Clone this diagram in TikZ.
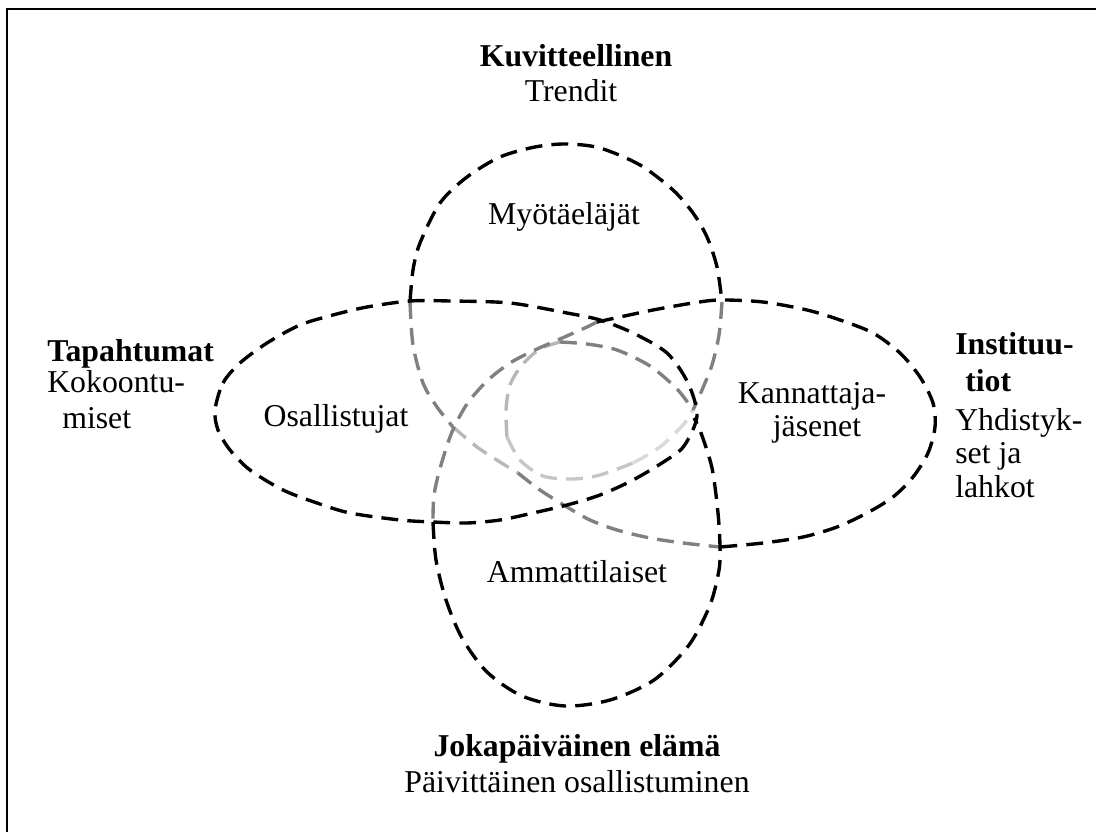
\documentclass[tikz,border=0pt]{standalone}
\usepackage{fontspec}
\setmainfont{Liberation Serif}
\definecolor{rimgray}{gray}{0.5}
\definecolor{rimpale}{gray}{0.72}
\definecolor{rimfaint}{gray}{0.85}

\begin{document}
\begin{tikzpicture}[x=0.025cm,y=-0.025cm,
    lbl/.style={font=\fontsize{22.6}{25}\selectfont,inner sep=0pt,anchor=base},
    lblb/.style={lbl,font=\fontsize{22.6}{25}\selectfont\bfseries},
    rim/.style={line width=2.4pt,dash pattern=on 12pt off 6.5pt}]
      \useasboundingbox (0,0) rectangle (1096,832);
      \draw[line width=1.5pt] (7,840) -- (7,9) -- (1104,9);
      %
      % grey parts (behind)
      \draw[rim,rimpale] plot[smooth] coordinates {(560,342) (540,349) (522,365) (510,385) (506,410) (507,437)};
      \draw[rim,rimpale!80!white] plot[smooth] coordinates {(507,437) (520,460) (543,476) (573,479) (600,475) (633,463)};
      \draw[rim,rimfaint] plot[smooth] coordinates {(633,463) (660,447) (683,425) (693,410)};
      \draw[rim,rimgray] plot[smooth] coordinates {(560,342) (587,344) (617,350) (650,366) (677,389) (693,410)};
      \draw[rim,rimgray] plot[smooth] coordinates {(410,302) (413,345) (423,383) (437,407) (453,427)};
      \draw[rim,rimpale] plot[smooth] coordinates {(453,427) (477,447) (500,462) (518,473)};
      \draw[rim,rimgray] plot[smooth] coordinates {(518,473) (540,490) (567,507) (590,520) (617,530) (650,538) (683,543) (720,547)};
      \draw[rim,rimgray] plot[smooth] coordinates {(722,302) (719,335) (712,365) (702,390) (693,410)};
      \draw[rim,rimgray] plot[smooth] coordinates {(597,322) (587,327) (560,339) (535,350) (510,363) (487,381) (467,404) (452,432) (441,465) (434,495) (433,522)};
      %
      % black parts (front)
      \draw[rim] plot[smooth] coordinates {(410,302) (413,270) (420,243) (440,203) (467,177) (500,157) (535,147) (566,144) (600,148) (640,165) (673,190) (693,213) (707,237) (717,267) (722,302)};
      \draw[rim] plot[smooth cycle] coordinates {(215,410) (223,383) (240,363) (267,343) (300,325) (333,315) (367,307) (410,301) (450,301) (510,303) (567,313) (600,320) (633,333) (667,353) (688,383) (697,416) (684,446) (665,461) (633,480) (600,495) (567,505) (533,513) (500,520) (467,523) (433,522) (400,520) (350,513) (317,503) (283,490) (250,470) (230,450) (218,430)};
      \draw[rim] plot[smooth] coordinates {(597,322) (620,317) (653,310) (693,303) (720,300) (763,302) (807,310) (840,320) (873,333) (900,353) (920,377) (933,403) (935,427) (928,453) (913,477) (893,497) (867,513) (837,527) (803,537) (763,543) (720,547)};
      \draw[rim] plot[smooth] coordinates {(433,522) (436,560) (446,600) (462,638) (487,672) (522,696) (565,706) (610,700) (654,680) (689,645) (710,605) (719,570) (720,547) (718,513) (712,468) (701,433) (694,418)};
      %
      \node[lblb] (imag) at (576,67) {Kuvitteellinen};
      \node[lbl] (trend) at (571,102) {Trendit};
      \node[lbl] (follow) at (564,225) {Myötäeläjät};
      \node[lbl] (partic) at (336,427) {Osallistujat};
      \node[lbl] (memb1) at (812,403) {Kannattaja-};
      \node[lbl] (memb2) at (817,437) {jäsenet};
      \node[lbl] (prof) at (577,582) {Ammattilaiset};
      %
      \node[lblb,anchor=base west] (event1) at (47,362) {Tapahtumat};
      \node[lbl,anchor=base west] (event2) at (47,393) {Kokoontu-};
      \node[lbl,anchor=base west] (event3) at (62,428) {miset};
      \node[lblb,anchor=base west] (inst1) at (955,355) {Instituu-};
      \node[lblb,anchor=base west] (inst2) at (965,392) {tiot};
      \node[lbl,anchor=base west] (inst3) at (955,430) {Yhdistyk-};
      \node[lbl,anchor=base west] (inst4) at (955,463) {set ja};
      \node[lbl,anchor=base west] (inst5) at (955,497) {lahkot};
      \node[lblb] (daily1) at (577,756) {Jokapäiväinen elämä};
      \node[lbl] (daily2) at (577,792) {Päivittäinen osallistuminen};
    \end{tikzpicture}
\end{document}
